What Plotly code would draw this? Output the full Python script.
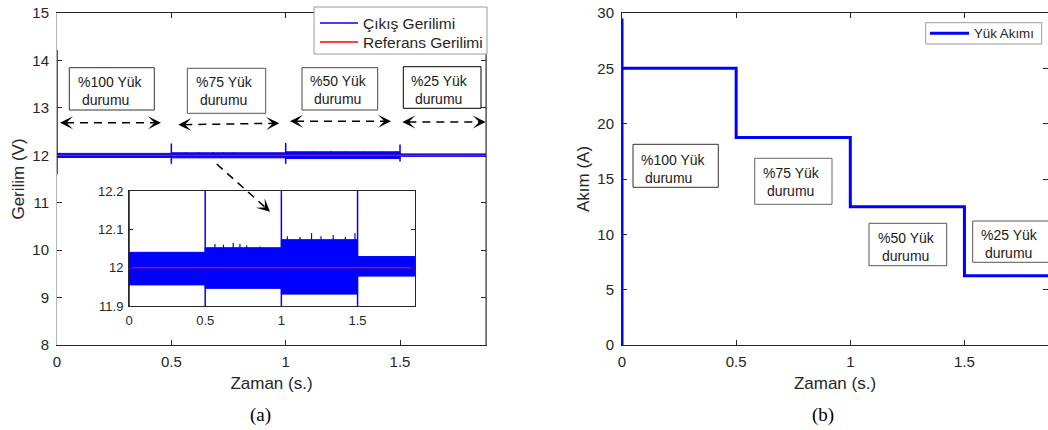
import plotly.graph_objects as go

# ---------------- data ----------------
time_end = 1.876
seg_edges = [0.0, 0.5, 1.0, 1.5, time_end]          # load step times (s)
band_hi = [12.040, 12.052, 12.073, 12.029]          # upper ripple envelope (V)
band_lo = [11.955, 11.946, 11.931, 11.978]          # lower ripple envelope (V)
transient_t = [0.0, 0.5, 1.0, 1.5]
transient_hi = [14.22, 12.25, 12.26, 12.23]
transient_lo = [11.60, 11.82, 11.82, 11.87]
burst_t = [0.564, 0.62, 0.684, 0.728, 0.772, 0.86, 1.039, 1.122, 1.198, 1.26, 1.34, 1.42, 1.483]
burst_v = [12.062, 12.060, 12.065, 12.062, 12.058, 12.055, 12.082, 12.080, 12.090, 12.082, 12.085, 12.080, 12.090]
ref_v = 12.0

current_peak = 29.5
load_levels = [25.0, 18.75, 12.5, 6.25]             # load current (A)

time_ticks = [0, 0.5, 1, 1.5]
time_labels = ["0", "0.5", "1", "1.5"]
volt_ticks = [8, 9, 10, 11, 12, 13, 14, 15]
inset_ticks = [11.9, 12.0, 12.1, 12.2]
inset_labels = ["11.9", "12", "12.1", "12.2"]
amp_ticks = [0, 5, 10, 15, 20, 25, 30]
box_texts = ["%100 Yük", "%75 Yük", "%50 Yük", "%25 Yük"]
legend_a = ["Çıkış Gerilimi", "Referans Gerilimi"]
legend_b = ["Yük Akımı"]

# ---------------- geometry helpers ----------------
W, H = 1048, 430
def px(x):
    return x / W
def py(y):
    return 1 - y / H

FONT = "Liberation Sans, Arial, sans-serif"
AX = "#262626"
BLUE = "#0000ff"
RED = "#ff0000"

# build traces from data
band_x, band_y = [], []
for i in range(len(band_hi)):
    a, b = seg_edges[i], seg_edges[i + 1]
    band_x += [a, b, b, a, a, None]
    band_y += [band_lo[i], band_lo[i], band_hi[i], band_hi[i], band_lo[i], None]

tr_x, tr_y = [], []
for t, lo, hi in zip(transient_t, transient_lo, transient_hi):
    tr_x += [t, t, None]
    tr_y += [lo, hi, None]

bu_x, bu_y = [], []
for t, v in zip(burst_t, burst_v):
    bu_x += [t, t, None]
    bu_y += [ref_v, v, None]

cur_x = [seg_edges[0], seg_edges[0]] + seg_edges[:4] + [seg_edges[-1]]
cur_y = [0, current_peak] + load_levels + [load_levels[-1]]

fig = go.Figure()

for xa, ya in (("x", "y"), ("x3", "y3")):
    fig.add_trace(go.Scatter(x=band_x, y=band_y, xaxis=xa, yaxis=ya, mode="lines",
                             fill="toself", fillcolor=BLUE, line=dict(color=BLUE, width=1),
                             showlegend=False, hoverinfo="skip"))
    fig.add_trace(go.Scatter(x=bu_x, y=bu_y, xaxis=xa, yaxis=ya, mode="lines",
                             line=dict(color=BLUE, width=1.2), showlegend=False, hoverinfo="skip"))
    fig.add_trace(go.Scatter(x=tr_x, y=tr_y, xaxis=xa, yaxis=ya, mode="lines",
                             line=dict(color=BLUE, width=1.5), name=legend_a[0], showlegend=False))
    fig.add_trace(go.Scatter(x=[seg_edges[0], seg_edges[-1]], y=[ref_v, ref_v], xaxis=xa, yaxis=ya,
                             mode="lines", line=dict(color=RED, width=1.2), name=legend_a[1],
                             showlegend=False))

fig.add_trace(go.Scatter(x=cur_x, y=cur_y, xaxis="x2", yaxis="y2", mode="lines", line_shape="hv",
                         line=dict(color=BLUE, width=3), name=legend_b[0], showlegend=False))

def axis(domain, rng, tickvals, ticktext=None, size=15, ticklen=5, standoff=4, **kw):
    d = dict(domain=domain, range=rng, tickvals=tickvals, showgrid=False, zeroline=False,
             showline=True, linecolor=AX, linewidth=1, mirror="ticks", ticks="inside",
             ticklen=ticklen, tickcolor=AX, tickwidth=1, ticklabelstandoff=standoff,
             tickfont=dict(family=FONT, size=size, color=AX), automargin=False, fixedrange=True)
    if ticktext is not None:
        d["ticktext"] = ticktext
    d.update(kw)
    return d

title_font = dict(family=FONT, size=17, color=AX)

fig.update_layout(
    width=W, height=H, margin=dict(l=0, r=0, t=0, b=0),
    paper_bgcolor="white", plot_bgcolor="white", showlegend=False,
    xaxis=axis([px(57), px(486)], [0, time_end], time_ticks, time_labels, standoff=3,
               title=dict(text="Zaman (s.)", font=title_font, standoff=8)),
    yaxis=axis([py(345), py(13)], [8, 15], volt_ticks, standoff=4, linecolor="#b4b4b4",
               layer="below traces",
               title=dict(text="Gerilim (V)", font=title_font, standoff=3)),
    xaxis2=axis([px(622), 1.0], [0, 426 / 228.3], time_ticks, time_labels, standoff=3,
                anchor="y2",
                title=dict(text="Zaman (s.)", font=title_font, standoff=8)),
    yaxis2=axis([py(345), py(13)], [0, 30], amp_ticks, standoff=4, anchor="x2",
                layer="below traces",
                title=dict(text="Akım (A)", font=title_font, standoff=3)),
    xaxis3=axis([px(129), px(415)], [0, 1.877], time_ticks, time_labels, size=13, ticklen=4,
                standoff=2, anchor="y3"),
    yaxis3=axis([py(306), py(191)], [11.9, 12.2], inset_ticks, inset_labels, size=13, ticklen=4,
                standoff=2, anchor="x3"),
)

# right mirror spine of left plot in dark colour (left spine is light grey)
fig.add_shape(type="line", xref="x domain", yref="y domain", x0=1, x1=1, y0=0, y1=1,
              line=dict(color=AX, width=1))

# text boxes: (box x0, x1, y0, y1, text x, text mid y, border colour)
boxes = [
    (69.3, 154.3, 67.7, 110.0, 77.0, 90.8, "#333333", box_texts[0]),
    (187.3, 265.7, 68.3, 113.3, 195.0, 90.8, "#555555", box_texts[1]),
    (302.0, 377.7, 67.7, 110.0, 309.3, 90.2, "#444444", box_texts[2]),
    (403.3, 481.0, 66.7, 108.3, 410.0, 89.5, "#000000", box_texts[3]),
    (633.0, 718.3, 144.3, 187.3, 640.0, 168.5, "#333333", box_texts[0]),
    (754.7, 832.0, 158.3, 204.3, 762.0, 182.2, "#666666", box_texts[1]),
    (869.0, 946.7, 223.3, 265.7, 876.7, 246.7, "#555555", box_texts[2]),
    (972.7, 1052.0, 221.0, 262.3, 980.0, 244.3, "#555555", box_texts[3]),
]
for x0, x1, y0, y1, tx, ty, col, txt in boxes:
    fig.add_shape(type="rect", xref="paper", yref="paper", x0=px(x0), x1=px(x1),
                  y0=py(y1), y1=py(y0), line=dict(color=col, width=1), fillcolor="white",
                  layer="above")
    fig.add_annotation(xref="paper", yref="paper", x=px(tx), y=py(ty), xanchor="left",
                       yanchor="middle", align="left", showarrow=False, borderpad=0,
                       text=txt + "<br>\u00a0durumu", font=dict(family=FONT, size=14, color="#1a1a1a"))

# legends drawn as boxed keys: (box x0,x1,y0,y1, entries[(label, colour, width, y)], line x0,x1, text x, size)
legends = [
    (314, 487, 7, 54, [(legend_a[0], BLUE, 1.5, 23), (legend_a[1], RED, 1.5, 42)], 320, 358, 362, 15.5),
    (925.7, 1041.7, 22.7, 44, [(legend_b[0], BLUE, 3, 33.3)], 930, 969, 972.7, 13.3),
]
for x0, x1, y0, y1, entries, lx0, lx1, tx, fs in legends:
    fig.add_shape(type="rect", xref="paper", yref="paper", x0=px(x0), x1=px(x1), y0=py(y1), y1=py(y0),
                  line=dict(color="#9a9a9a", width=1), fillcolor="white", layer="above")
    for label, col, w, yy in entries:
        fig.add_shape(type="line", xref="paper", yref="paper", x0=px(lx0), x1=px(lx1), y0=py(yy),
                      y1=py(yy), line=dict(color=col, width=w), layer="above")
        fig.add_annotation(xref="paper", yref="paper", x=px(tx), y=py(yy), xanchor="left",
                           yanchor="middle", showarrow=False, borderpad=0, text=label,
                           font=dict(family=FONT, size=fs, color=AX))

# dashed double arrows marking load intervals
arrows = [(60, 122.7, 161, 122.7), (178.3, 124.7, 279.3, 123.3),
          (290, 121.3, 391, 121.3), (402.3, 122, 485.7, 122)]
def head(xt, yt, xf, yf):
    dx, dy = xf - xt, yf - yt
    n = (dx * dx + dy * dy) ** 0.5
    fig.add_annotation(xref="paper", yref="paper", x=px(xt), y=py(yt), ax=9 * dx / n, ay=9 * dy / n,
                       text="", showarrow=True, arrowhead=3, arrowsize=1.45, arrowwidth=1.5,
                       arrowcolor="black", standoff=0)

for xa, ya, xb, yb in arrows:
    fig.add_shape(type="line", xref="paper", yref="paper", x0=px(xa + 6), x1=px(xb - 6),
                  y0=py(ya), y1=py(yb), line=dict(color="black", width=1.5, dash="8px,6px"))
    head(xa, ya, xb, yb)
    head(xb, yb, xa, ya)

# diagonal arrow pointing to the inset
fig.add_shape(type="line", xref="paper", yref="paper", x0=px(216.7), x1=px(266),
              y0=py(164), y1=py(208), line=dict(color="black", width=1.5, dash="8px,6px"))
head(270, 211.7, 216.7, 164)

# captions
for cx, cap in ((260, "(a)"), (823, "(b)")):
    fig.add_annotation(xref="paper", yref="paper", x=px(cx), y=py(415), xanchor="center",
                       yanchor="middle", text=cap, showarrow=False,
                       font=dict(family="Liberation Serif, Times New Roman, serif", size=19, color="black"))

fig.write_html("out.html")
